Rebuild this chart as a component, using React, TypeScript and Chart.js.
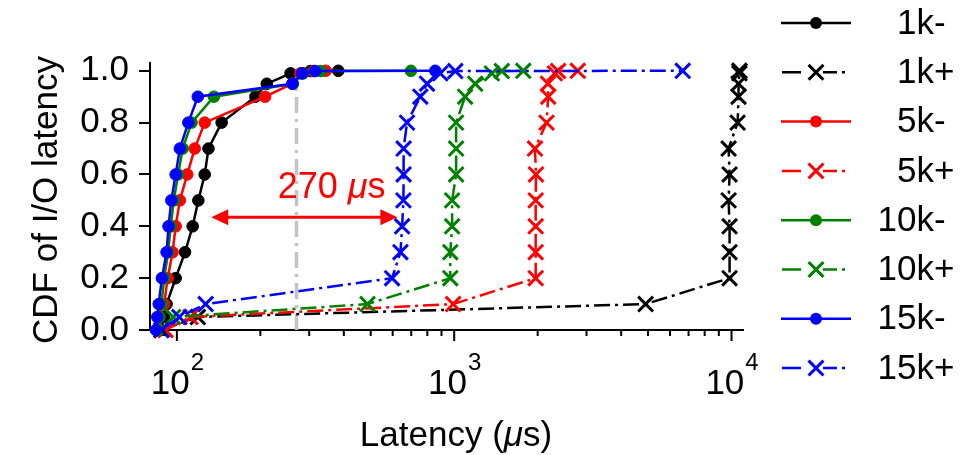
import { useEffect, useRef } from "react";
import { Chart, registerables } from "chart.js";

Chart.register(...registerables);

// ---------- data ----------
const CDF_LEVELS = [0, 0.05, 0.1, 0.2, 0.3, 0.4, 0.5, 0.6, 0.7, 0.8, 0.9, 0.95, 0.99, 0.999, 1.0];

const LAT_1K_MINUS = [87.6, 89.8, 91.8, 99, 107, 114, 119.5, 126, 130, 145, 192, 211, 257, 303, 382];
const LAT_1K_PLUS = [88, 119, 4900, 9840, 9840, 9840, 9760, 9840, 9760, 10520, 10600, 10600, 10680, 10680, 10680];
const LAT_5K_MINUS = [85.5, 86, 90, 92.6, 96.5, 99, 102.5, 109, 116, 126, 208, 261, 279, 311, 344];
const LAT_5K_PLUS = [91, 112, 991, 1967, 1967, 1967, 1967, 1972, 1955, 2153, 2183, 2178, 2307, 2370, 2790];
const LAT_10K_MINUS = [86, 86.5, 88, 90, 93, 95, 97.5, 101, 105, 113, 136, 262, 285, 330, 698];
const LAT_10K_PLUS = [88, 97, 487, 968, 968, 983, 983, 1016, 1016, 1016, 1095, 1190, 1367, 1485, 1775];
const LAT_15K_MINUS = [84, 85, 86, 88.3, 91.8, 93.3, 95.5, 99, 102.5, 110, 119, 261, 283, 315, 855];
const LAT_15K_PLUS = [88, 102, 127, 597, 640, 649, 656, 657, 657, 676, 755, 798, 891, 1009, 6670];

const SERIES_LABELS = ["1k-", "1k+", "5k-", "5k+", "10k-", "10k+", "15k-", "15k+"];
const SERIES_VALUES = [
  LAT_1K_MINUS, LAT_1K_PLUS, LAT_5K_MINUS, LAT_5K_PLUS,
  LAT_10K_MINUS, LAT_10K_PLUS, LAT_15K_MINUS, LAT_15K_PLUS,
];
const SERIES_COLORS = ["#000000", "#000000", "#ff0000", "#ff0000", "#008000", "#008000", "#0000ff", "#0000ff"];

const Y_TICKS = [0, 0.2, 0.4, 0.6, 0.8, 1.0];
const X_MAJOR_TICKS = [100, 1000, 10000];
const X_MAJOR_EXPONENTS = ["2", "3", "4"];
const X_MINOR_TICKS = [90, 200, 300, 400, 500, 600, 700, 800, 900, 2000, 3000, 4000, 5000, 6000, 7000, 8000, 9000];

const MARK_LATENCY = 270;
const MARK_CDF = [0, 1.0];
const ARROW_FROM = 133;
const ARROW_TO = 624;
const ARROW_CDF = 0.435;
const NOTE_LATENCY = 231;
const NOTE_CDF = 0.508;

const FONT = '"Liberation Sans", Arial, Helvetica, sans-serif';
const DASH_DOT = [16, 5, 3, 5];

function drawMixed(ctx: CanvasRenderingContext2D, parts: [string, boolean][], x: number, y: number, size: number, align: "left" | "center") {
  let total = 0;
  const widths = parts.map(([t, it]) => {
    ctx.font = `${it ? "italic " : ""}${size}px ${FONT}`;
    const w = ctx.measureText(t).width;
    total += w;
    return w;
  });
  let cx = align === "center" ? x - total / 2 : x;
  ctx.textAlign = "left";
  parts.forEach(([t, it], i) => {
    ctx.font = `${it ? "italic " : ""}${size}px ${FONT}`;
    ctx.fillText(t, cx, y);
    cx += widths[i];
  });
}

function drawCross(ctx: CanvasRenderingContext2D, x: number, y: number, r: number) {
  const d = r * Math.SQRT1_2;
  ctx.beginPath();
  ctx.moveTo(x - d, y - d);
  ctx.lineTo(x + d, y + d);
  ctx.moveTo(x - d, y + d);
  ctx.lineTo(x + d, y - d);
  ctx.stroke();
}

const decorPlugin = {
  id: "decor",
  afterDatasetsDraw(chart: any) {
    const ctx: CanvasRenderingContext2D = chart.ctx;
    const xs = chart.scales.x;
    const ys = chart.scales.y;
    // annotation arrow
    const ay = ys.getPixelForValue(ARROW_CDF);
    const x1 = xs.getPixelForValue(ARROW_FROM);
    const x2 = xs.getPixelForValue(ARROW_TO);
    const hl = 17, hw = 8;
    ctx.save();
    ctx.strokeStyle = "#ff0000";
    ctx.fillStyle = "#ff0000";
    ctx.lineWidth = 3;
    ctx.setLineDash([]);
    ctx.beginPath();
    ctx.moveTo(x1 + hl - 2, ay);
    ctx.lineTo(x2 - hl + 2, ay);
    ctx.stroke();
    ctx.beginPath();
    ctx.moveTo(x1, ay);
    ctx.lineTo(x1 + hl, ay - hw);
    ctx.lineTo(x1 + hl, ay + hw);
    ctx.closePath();
    ctx.fill();
    ctx.beginPath();
    ctx.moveTo(x2, ay);
    ctx.lineTo(x2 - hl, ay - hw);
    ctx.lineTo(x2 - hl, ay + hw);
    ctx.closePath();
    ctx.fill();
    ctx.textBaseline = "alphabetic";
    drawMixed(ctx, [["270 ", false], ["\u03bc", true], ["s", false]],
      xs.getPixelForValue(NOTE_LATENCY), ys.getPixelForValue(NOTE_CDF), 36, "left");
    ctx.restore();
  },
  afterDraw(chart: any) {
    const ctx: CanvasRenderingContext2D = chart.ctx;
    const xs = chart.scales.x;
    const area = chart.chartArea;
    ctx.save();
    ctx.setLineDash([]);
    ctx.strokeStyle = "#000";
    ctx.fillStyle = "#000";
    ctx.lineWidth = 2;
    // x tick marks
    X_MAJOR_TICKS.forEach((v) => {
      const px = xs.getPixelForValue(v);
      ctx.beginPath();
      ctx.moveTo(px, area.bottom);
      ctx.lineTo(px, area.bottom + 11);
      ctx.stroke();
    });
    X_MINOR_TICKS.forEach((v) => {
      const px = xs.getPixelForValue(v);
      ctx.beginPath();
      ctx.moveTo(px, area.bottom);
      ctx.lineTo(px, area.bottom + 6);
      ctx.stroke();
    });
    // x tick labels 10^n
    ctx.textBaseline = "alphabetic";
    X_MAJOR_TICKS.forEach((v, i) => {
      const px = xs.getPixelForValue(v);
      ctx.font = `35px ${FONT}`;
      const wb = ctx.measureText("10").width;
      ctx.font = `24px ${FONT}`;
      const we = ctx.measureText(X_MAJOR_EXPONENTS[i]).width;
      const left = px - (wb + we) / 2;
      ctx.font = `35px ${FONT}`;
      ctx.textAlign = "left";
      ctx.fillText("10", left, area.bottom + 64);
      ctx.font = `24px ${FONT}`;
      ctx.fillText(X_MAJOR_EXPONENTS[i], left + wb + 1, area.bottom + 40);
    });
    // axis titles
    drawMixed(ctx, [["Latency (", false], ["\u03bc", true], ["s)", false]], 456, 446, 35, "center");
    ctx.save();
    ctx.translate(47, 200);
    ctx.rotate(-Math.PI / 2);
    ctx.font = `35px ${FONT}`;
    ctx.textAlign = "center";
    ctx.textBaseline = "middle";
    ctx.fillText("CDF of I/O latency", 0, 0);
    ctx.restore();
    // legend
    SERIES_LABELS.forEach((label, i) => {
      const y = 23 + i * 49.3;
      const color = SERIES_COLORS[i];
      const plus = i % 2 === 1;
      ctx.strokeStyle = color;
      ctx.fillStyle = color;
      ctx.lineWidth = 2.5;
      ctx.setLineDash([]);
      if (!plus) {
        ctx.beginPath();
        ctx.moveTo(781, y);
        ctx.lineTo(851, y);
        ctx.stroke();
        ctx.beginPath();
        ctx.arc(816, y, 6, 0, Math.PI * 2);
        ctx.fill();
      } else {
        ctx.beginPath();
        ctx.moveTo(782, y);
        ctx.lineTo(801, y);
        ctx.moveTo(823, y);
        ctx.lineTo(837, y);
        ctx.moveTo(842, y);
        ctx.lineTo(845, y);
        ctx.stroke();
        ctx.lineWidth = 3;
        drawCross(ctx, 816, y, 10.5);
      }
      ctx.fillStyle = "#000";
      ctx.font = `35px ${FONT}`;
      ctx.textAlign = "left";
      ctx.textBaseline = "middle";
      const prefix = label.slice(0, -1);
      const pw = ctx.measureText(prefix).width;
      ctx.fillText(label, 934 - pw, y + 1);
    });
    ctx.restore();
  },
};

export default function App() {
  const ref = useRef<HTMLCanvasElement>(null);
  useEffect(() => {
    const datasets: any[] = SERIES_LABELS.map((label, i) => {
      const plus = i % 2 === 1;
      return {
        label,
        data: SERIES_VALUES[i].map((x, k) => ({ x, y: CDF_LEVELS[k] })),
        borderColor: SERIES_COLORS[i],
        backgroundColor: SERIES_COLORS[i],
        borderWidth: 2.5,
        borderDash: plus ? DASH_DOT : [],
        pointStyle: plus ? "crossRot" : "circle",
        pointRadius: plus ? 10.5 : 5.8,
        pointBorderWidth: plus ? 3 : 1,
        pointBorderColor: SERIES_COLORS[i],
        pointBackgroundColor: SERIES_COLORS[i],
        tension: 0,
        clip: false,
        order: 10 - i,
      };
    });
    datasets.push({
      label: "mark",
      data: MARK_CDF.map((y) => ({ x: MARK_LATENCY, y })),
      borderColor: "#c4c4c4",
      borderWidth: 3.5,
      borderDash: [16, 6, 3, 6],
      pointRadius: 0,
      clip: false,
      order: 100,
    });
    const chart = new Chart(ref.current as HTMLCanvasElement, {
      type: "line",
      data: { datasets },
      plugins: [decorPlugin],
      options: {
        animation: false,
        responsive: false,
        devicePixelRatio: 1,
        layout: { padding: { left: 0, top: 63, right: 228, bottom: 0 } },
        plugins: { legend: { display: false }, tooltip: { enabled: false } },
        scales: {
          x: {
            type: "logarithmic",
            min: 80,
            max: 11000,
            grid: { display: false },
            border: { display: true, color: "#000", width: 2 },
            ticks: { display: false },
            afterFit: (s: any) => { s.height = 125; },
          },
          y: {
            type: "linear",
            min: 0,
            max: 1.03,
            afterBuildTicks: (s: any) => { s.ticks = Y_TICKS.map((value) => ({ value })); },
            ticks: {
              color: "#000",
              font: { family: FONT, size: 35 },
              padding: 10,
              callback: (v: any) => Number(v).toFixed(1),
            },
            grid: { drawOnChartArea: false, tickLength: 11, tickColor: "#000", lineWidth: 2, tickWidth: 2 },
            border: { display: true, color: "#000", width: 2 },
            afterFit: (s: any) => { s.width = 150; },
          },
        },
      },
    } as any);
    return () => chart.destroy();
  }, []);
  return (
    <div style={{ position: "fixed", left: 0, top: 0, width: 971, height: 455, background: "#fff" }}>
      <canvas ref={ref} width={971} height={455} style={{ width: 971, height: 455, display: "block" }} />
    </div>
  );
}
